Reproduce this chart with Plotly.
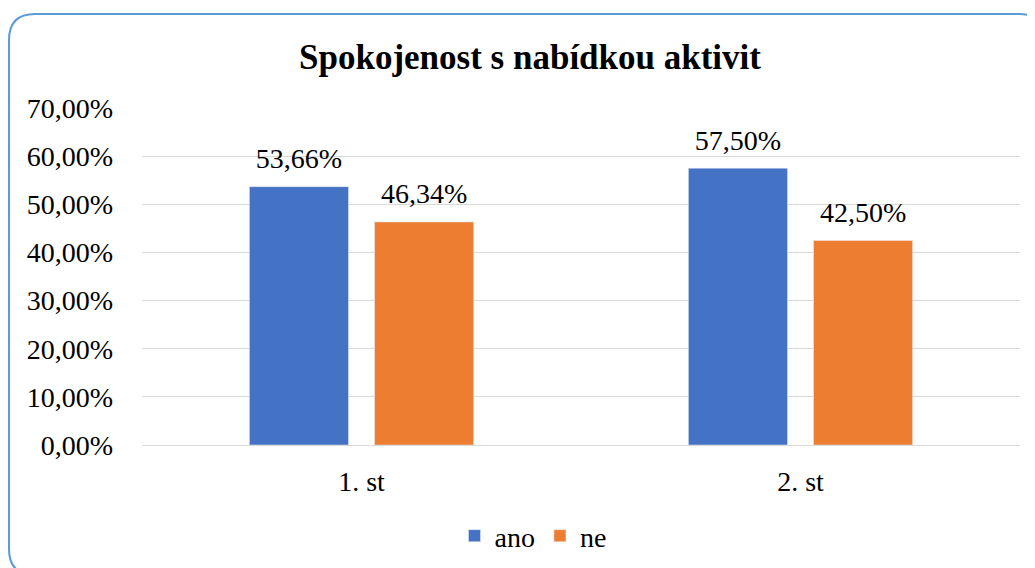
import plotly.graph_objects as go

categories = ["1. st", "2. st"]
ano = [0.5366, 0.5750]
ne = [0.4634, 0.4250]
y_ticks = [0, 0.1, 0.2, 0.3, 0.4, 0.5, 0.6, 0.7]

FONT = "Liberation Serif"
FS = 28

fig = go.Figure()
fig.add_trace(go.Bar(name="ano", x=categories, y=ano, marker_color="#4472C4", hoverinfo="skip"))
fig.add_trace(go.Bar(name="ne", x=categories, y=ne, marker_color="#ED7D31", hoverinfo="skip"))
# value labels, grouped like the bars
for vals in (ano, ne):
    fig.add_trace(go.Scatter(x=categories, y=vals, mode="markers+text",
                             texttemplate="%{y:.2%}", textposition="top center",
                             marker=dict(size=17, opacity=0),
                             textfont=dict(size=FS, color="#000000", family=FONT),
                             showlegend=False, hoverinfo="skip", cliponaxis=False))

W, H = 1027, 560
L, R, T, B = 134, 15, 100, 123
pw = W - L - R
ph = H - T - B

def px(x):
    return (x - L) / pw

def py(y):
    return (H - B - y) / ph

x0, x1, y0, y1 = 1, 1037, 6, 567
r = 26
rx = r / pw
ry = r / ph
path = (
    f"M {px(x0)+rx},{py(y0)} L {px(x1)-rx},{py(y0)} Q {px(x1)},{py(y0)} {px(x1)},{py(y0)-ry} "
    f"L {px(x1)},{py(y1)+ry} Q {px(x1)},{py(y1)} {px(x1)-rx},{py(y1)} "
    f"L {px(x0)+rx},{py(y1)} Q {px(x0)},{py(y1)} {px(x0)},{py(y1)+ry} "
    f"L {px(x0)},{py(y0)-ry} Q {px(x0)},{py(y0)} {px(x0)+rx},{py(y0)} Z"
)

fig.update_layout(
    width=W, height=H,
    margin=dict(l=L, r=R, t=T, b=B, autoexpand=False),
    paper_bgcolor="white", plot_bgcolor="white",
    separators=", ",
    font=dict(family=FONT, size=FS, color="#000000"),
    title=dict(text="<b>Spokojenost s nabídkou aktivit</b>", x=522 / W, xanchor="center",
               y=1 - 49 / H, yanchor="middle", yref="container", xref="container",
               font=dict(size=35, family=FONT, color="#000000")),
    barmode="group", bargap=0.43, bargroupgap=0.208,
    scattermode="group", scattergap=0.43,
    showlegend=True,
    legend=dict(orientation="h", x=525 / W, xref="container", xanchor="center",
                y=1 - 528 / H, yref="container", yanchor="middle",
                font=dict(size=FS, family=FONT), itemwidth=30, traceorder="normal"),
    shapes=[dict(type="path", path=path, xref="paper", yref="paper",
                 line=dict(color="#5B9BD5", width=2), fillcolor="rgba(0,0,0,0)", layer="above")],
)
fig.update_yaxes(range=[0, 0.7], tickvals=y_ticks, tickformat=".2%", showgrid=True,
                 gridcolor="#D9D9D9", gridwidth=1.3, zeroline=True, zerolinecolor="#D9D9D9",
                 zerolinewidth=1.3, showline=False, ticks="", ticklabelstandoff=28,
                 tickfont=dict(size=FS, family=FONT))
fig.update_xaxes(showline=False, ticks="", ticklabelstandoff=17,
                 tickfont=dict(size=FS, family=FONT))

fig.write_html("out.html")
